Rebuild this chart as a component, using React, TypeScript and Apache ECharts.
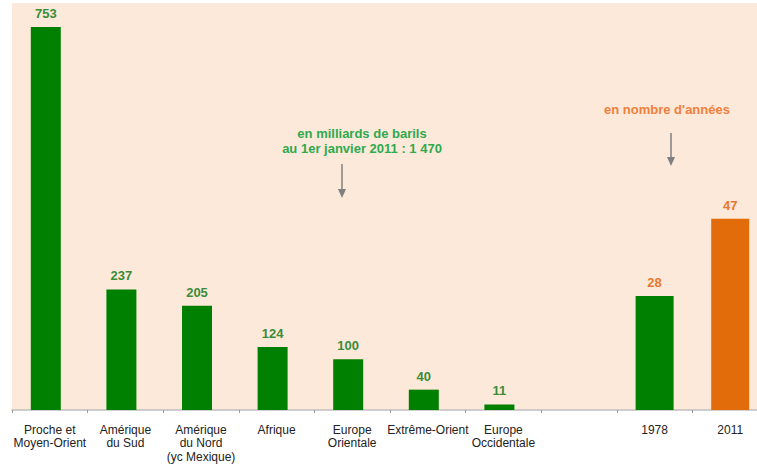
import React, { useEffect, useRef } from "react";
import * as echarts from "echarts";

const categories = [
  "Proche et\nMoyen-Orient",
  "Amérique\ndu Sud",
  "Amérique\ndu Nord\n(yc Mexique)",
  "Afrique",
  "Europe\nOrientale",
  "Extrême-Orient",
  "Europe\nOccidentale",
  "",
  "1978",
  "2011",
];
const reserves: (number | string)[] = [753, 237, 205, 124, 100, 40, 11, "-", "-", "-"];
const years: (number | string)[] = ["-", "-", "-", "-", "-", "-", "-", "-", 28, 47];
const yearColors = ["#008000", "#E36C0A"];
const note1 = "en milliards de barils\nau 1er janvier 2011 : 1 470";
const note2 = "en nombre d'années";

const FONT = "'Liberation Sans', Arial, sans-serif";

export default function App() {
  const ref = useRef<HTMLDivElement>(null);
  useEffect(() => {
    document.body.style.margin = "0";
    if (!ref.current) return;
    const chart = echarts.init(ref.current, null, { renderer: "svg" });
    chart.setOption({
      animation: false,
      backgroundColor: "#ffffff",
      textStyle: { fontFamily: FONT },
      grid: {
        left: 12,
        top: 3,
        right: 0,
        bottom: 56,
        show: true,
        backgroundColor: "#FDE9D9",
        borderWidth: 0,
      },
      xAxis: {
        type: "category",
        data: categories,
        axisLine: { show: true, lineStyle: { color: "#BFBFBF", width: 1.5 } },
        axisTick: { show: true, length: 3, lineStyle: { color: "#9A9A9A" } },
        axisLabel: {
          interval: 0,
          color: "#222222",
          fontSize: 12,
          lineHeight: 13.5,
          margin: 13,
          fontFamily: FONT,
        },
      },
      yAxis: [
        { type: "value", min: 0, max: 800, show: false, splitLine: { show: false } },
        { type: "value", min: 0, max: 100, show: false, splitLine: { show: false } },
      ],
      series: [
        {
          type: "bar",
          yAxisIndex: 0,
          data: reserves,
          barWidth: 30,
          barGap: "-100%",
          itemStyle: { color: "#008000" },
          label: {
            show: true,
            position: "top",
            distance: 7,
            color: "#3A8C3A",
            fontWeight: "bold",
            fontSize: 13,
            fontFamily: FONT,
          },
        },
        {
          type: "bar",
          yAxisIndex: 1,
          data: years.map((v, i) =>
            v === "-" ? v : { value: v, itemStyle: { color: yearColors[i - 8] } }
          ),
          barWidth: 38,
          barGap: "-100%",
          label: {
            show: true,
            position: "top",
            distance: 7,
            color: "#E8772E",
            fontWeight: "bold",
            fontSize: 13,
            fontFamily: FONT,
          },
        },
      ],
      graphic: [
        {
          type: "text",
          x: 362,
          y: 126,
          style: {
            text: note1,
            align: "center",
            fill: "#2EAA4E",
            font: `bold 13px ${FONT}`,
            lineHeight: 15,
          },
        },
        {
          type: "line",
          shape: { x1: 342, y1: 164, x2: 342, y2: 190 },
          style: { stroke: "#7F7F7F", lineWidth: 1.5 },
        },
        {
          type: "polygon",
          shape: { points: [[338, 189], [346, 189], [342, 198]] },
          style: { fill: "#7F7F7F" },
        },
        {
          type: "text",
          x: 667,
          y: 103,
          style: {
            text: note2,
            align: "center",
            fill: "#F07F3C",
            font: `bold 13px ${FONT}`,
          },
        },
        {
          type: "line",
          shape: { x1: 671, y1: 133, x2: 671, y2: 158 },
          style: { stroke: "#7F7F7F", lineWidth: 1.5 },
        },
        {
          type: "polygon",
          shape: { points: [[667, 157], [675, 157], [671, 166]] },
          style: { fill: "#7F7F7F" },
        },
      ],
    });
    return () => chart.dispose();
  }, []);
  return (
    <div
      style={{
        position: "absolute",
        left: 0,
        top: 0,
        width: 757,
        height: 466,
        overflow: "hidden",
      }}
    >
      <div ref={ref} style={{ width: 768, height: 466 }} />
    </div>
  );
}
